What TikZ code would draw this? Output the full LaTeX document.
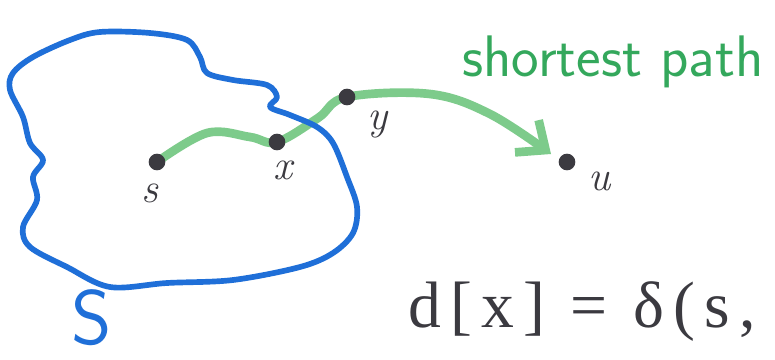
\documentclass[tikz,border=0pt]{standalone}
\usepackage{fontspec}
\newfontfamily\eqfont{Liberation Serif}
\usetikzlibrary{arrows.meta,backgrounds}
\definecolor{ink}{HTML}{3B3A40}
\definecolor{pen}{HTML}{1F6FD8}
\definecolor{trail}{HTML}{7DCB8B}
\definecolor{note}{HTML}{34A85C}
\tikzset{
  region/.style={draw=pen,line width=1.7mm,line join=round},
  vtx/.style={circle,fill=ink,inner sep=0pt,minimum size=5mm},
  vlab/.style={inner sep=0pt,text=ink,font=\itshape\fontsize{36}{36}\selectfont},
  trailline/.style={draw=trail,line width=2.6mm,line cap=round,line join=round,
    -{Straight Barb[length=7mm,width=12mm]}},
  notelab/.style={inner sep=0pt,text=note,font=\sffamily\fontsize{50}{50}\selectfont},
  setlab/.style={inner sep=0pt,text=pen,font=\sffamily\fontsize{66}{66}\selectfont},
  eqlab/.style={inner sep=0pt,text=ink,anchor=west,
    font=\eqfont\addfontfeature{LetterSpace=14}\fontsize{56}{56}\selectfont},
}
\begin{document}
\begin{tikzpicture}[x=0.03cm,y=-0.03cm]
  \useasboundingbox (0,0) rectangle (775,360);
  % the set S
  \draw[region] plot[smooth cycle,tension=0.55] coordinates {
    (70,40) (100,32) (150,33) (187,40) (200,57) (207,73) (233,80) (267,85)
    (277,97) (270,107) (290,115) (317,127) (333,143) (347,177) (357,207)
    (353,233) (333,253) (300,267) (233,280) (167,283) (110,287) (67,267)
    (30,247) (23,227) (37,200) (33,177) (43,160) (30,143) (23,117) (10,90)
    (13,73) (33,57)};
  \node[setlab] (S) at (92,318) {S};
  % vertices
  \node[vtx] (s) at (157,162) {};
  \node[vtx] (x) at (277,142) {};
  \node[vtx] (y) at (347,97) {};
  \node[vtx] (u) at (567,162) {};
  \node[vlab] (ls) at (150,193) {s};
  \node[vlab] (lx) at (283,170) {x};
  \node[vlab] (ly) at (378,124) {y};
  \node[vlab] (lu) at (600,181) {u};
  \coordinate (tip) at (551,154);
  \begin{scope}[on background layer]
    \fill[white] (0,0) rectangle (775,360);
    \draw[trailline] plot[smooth,tension=0.6] coordinates {
      (s.center) (207,133) (250,137) (x.center) (318,118) (y.center)
      (430,94) (490,114) (tip)};
  \end{scope}
  \node[notelab] (sp) at (613,62) {shortest path};
  \node[eqlab] (eq) at (408,312) {d[x] = δ(s,};
\end{tikzpicture}
\end{document}
